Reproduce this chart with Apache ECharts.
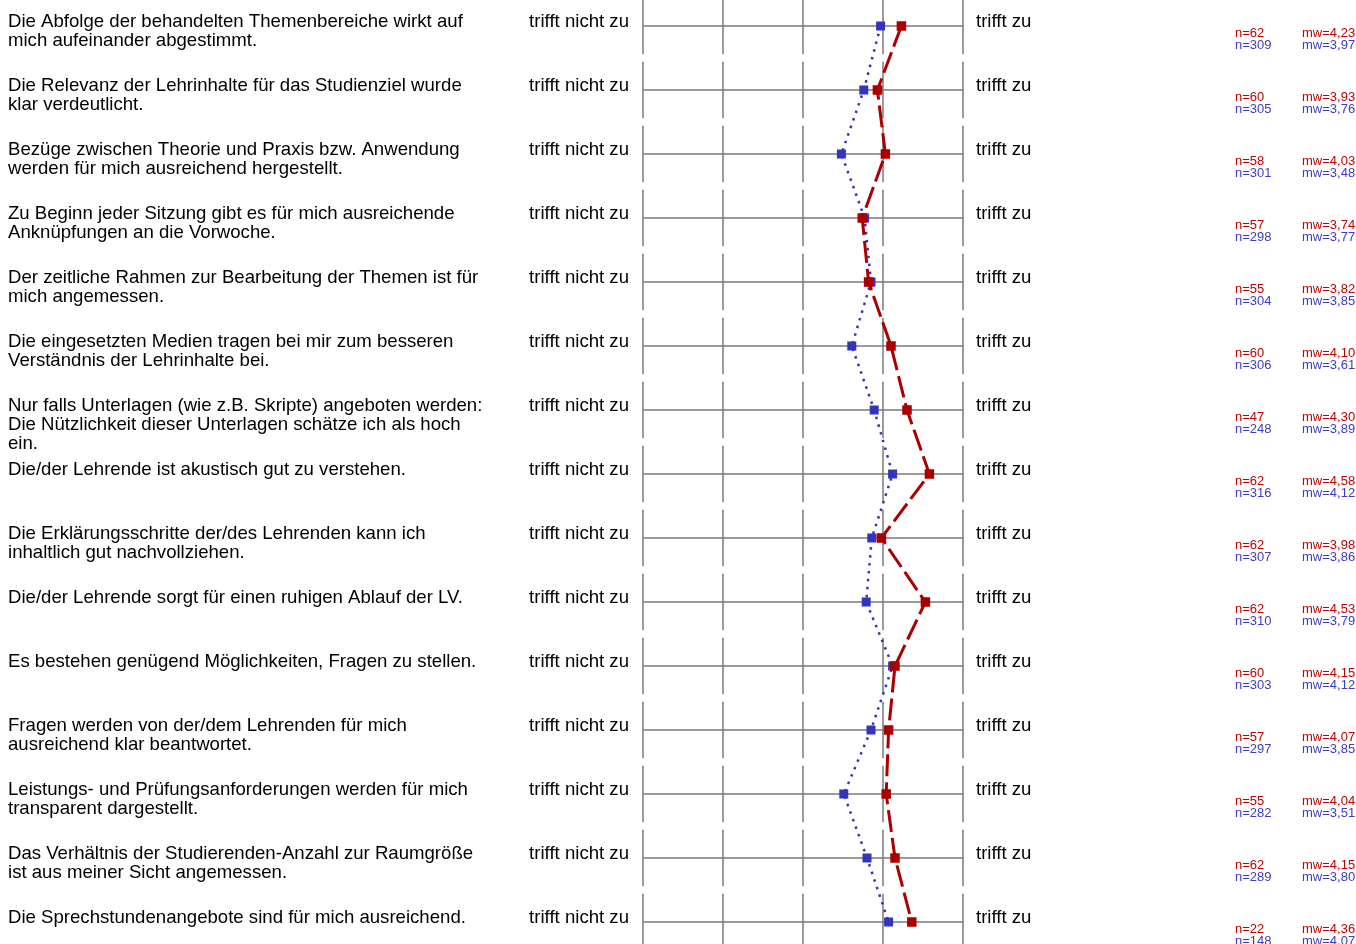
<!DOCTYPE html>
<html>
<head>
<meta charset="utf-8">
<script src="https://cdn.jsdelivr.net/npm/echarts@6/dist/echarts.min.js"></script>
<style>html,body{margin:0;padding:0;background:#fff}#c{width:1356px;height:944px}</style>
</head>
<body>
<div id="c"></div>
<script>
const questions = [
  "Die Abfolge der behandelten Themenbereiche wirkt auf\nmich aufeinander abgestimmt.",
  "Die Relevanz der Lehrinhalte für das Studienziel wurde\nklar verdeutlicht.",
  "Bezüge zwischen Theorie und Praxis bzw. Anwendung\nwerden für mich ausreichend hergestellt.",
  "Zu Beginn jeder Sitzung gibt es für mich ausreichende\nAnknüpfungen an die Vorwoche.",
  "Der zeitliche Rahmen zur Bearbeitung der Themen ist für\nmich angemessen.",
  "Die eingesetzten Medien tragen bei mir zum besseren\nVerständnis der Lehrinhalte bei.",
  "Nur falls Unterlagen (wie z.B. Skripte) angeboten werden:\nDie Nützlichkeit dieser Unterlagen schätze ich als hoch\nein.",
  "Die/der Lehrende ist akustisch gut zu verstehen.",
  "Die Erklärungsschritte der/des Lehrenden kann ich\ninhaltlich gut nachvollziehen.",
  "Die/der Lehrende sorgt für einen ruhigen Ablauf der LV.",
  "Es bestehen genügend Möglichkeiten, Fragen zu stellen.",
  "Fragen werden von der/dem Lehrenden für mich\nausreichend klar beantwortet.",
  "Leistungs- und Prüfungsanforderungen werden für mich\ntransparent dargestellt.",
  "Das Verhältnis der Studierenden-Anzahl zur Raumgröße\nist aus meiner Sicht angemessen.",
  "Die Sprechstundenangebote sind für mich ausreichend."
];
const leftPole = "trifft nicht zu";
const rightPole = "trifft zu";
const scaleTicks = [1, 2, 3, 4, 5];
const redMw = [4.23, 3.93, 4.03, 3.74, 3.82, 4.10, 4.30, 4.58, 3.98, 4.53, 4.15, 4.07, 4.04, 4.15, 4.36];
const blueMw = [3.97, 3.76, 3.48, 3.77, 3.85, 3.61, 3.89, 4.12, 3.86, 3.79, 4.12, 3.85, 3.51, 3.80, 4.07];
const redN = [62, 60, 58, 57, 55, 60, 47, 62, 62, 62, 60, 57, 55, 62, 22];
const blueN = [309, 305, 301, 298, 304, 306, 248, 316, 307, 310, 303, 297, 282, 289, 148];

const RED = '#aa0000', BLUE = '#3333bb';
const RED_T = '#c00000', BLUE_T = '#3c3cc4';
const GRID = '#7a7a7a';
const FONT = '"Liberation Sans", Arial, sans-serif';
const BIG = '18.6px ' + FONT;
const SMALL = '13px ' + FONT;
const fmt = v => v.toFixed(2).replace('.', ',');

const chart = echarts.init(document.getElementById('c'), null, {renderer: 'canvas'});

function renderRow(params, api) {
  const i = api.value(0);
  const L = api.coord([scaleTicks[0], i]);
  const R = api.coord([scaleTicks[scaleTicks.length - 1], i]);
  const cy = L[1];
  const children = [];
  children.push({type: 'line', shape: {x1: L[0], y1: cy, x2: R[0], y2: cy},
    style: {stroke: GRID, lineWidth: 1.5}});
  scaleTicks.forEach(t => {
    const a = api.coord([t, i - 0.44]);
    const b = api.coord([t, i + 0.44]);
    children.push({type: 'line', shape: {x1: a[0], y1: a[1], x2: b[0], y2: b[1]},
      style: {stroke: GRID, lineWidth: 1.5}});
  });
  children.push({type: 'text', style: {text: questions[i], x: L[0] - 635, y: cy - 13.5,
    font: BIG, fill: '#000', lineHeight: 19, textVerticalAlign: 'top'}});
  children.push({type: 'text', style: {text: leftPole, x: L[0] - 14, y: cy - 4.5,
    font: BIG, fill: '#000', textAlign: 'right', textVerticalAlign: 'middle'}});
  children.push({type: 'text', style: {text: rightPole, x: R[0] + 13, y: cy - 4.5,
    font: BIG, fill: '#000', textAlign: 'left', textVerticalAlign: 'middle'}});
  children.push({type: 'text', style: {text: 'n=' + redN[i], x: R[0] + 272, y: cy + 7.5,
    font: SMALL, fill: RED_T, textVerticalAlign: 'middle'}});
  children.push({type: 'text', style: {text: 'n=' + blueN[i], x: R[0] + 272, y: cy + 19.5,
    font: SMALL, fill: BLUE_T, textVerticalAlign: 'middle'}});
  children.push({type: 'text', style: {text: 'mw=' + fmt(redMw[i]), x: R[0] + 339, y: cy + 7.5,
    font: SMALL, fill: RED_T, textVerticalAlign: 'middle'}});
  children.push({type: 'text', style: {text: 'mw=' + fmt(blueMw[i]), x: R[0] + 339, y: cy + 19.5,
    font: SMALL, fill: BLUE_T, textVerticalAlign: 'middle'}});
  return {type: 'group', children};
}

chart.setOption({
  animation: false,
  backgroundColor: '#fff',
  grid: {left: 643, width: 320, top: 0, height: 944},
  xAxis: {type: 'value', min: 1, max: 5, show: false},
  yAxis: {type: 'value', min: -0.40625, max: 14.34375, inverse: true, show: false},
  series: [
    {type: 'custom', renderItem: renderRow, clip: false, z: 1,
     data: questions.map((q, i) => [i]), encode: {y: 0}, silent: true},
    {type: 'line', z: 3, data: blueMw.map((v, i) => [v, i]),
     symbol: 'rect', symbolSize: 9, showSymbol: true,
     itemStyle: {color: BLUE},
     lineStyle: {color: BLUE, width: 2.5, type: [2.5, 5.5], cap: 'butt'}},
    {type: 'line', z: 4, data: redMw.map((v, i) => [v, i]),
     symbol: 'rect', symbolSize: 9.5, showSymbol: true,
     itemStyle: {color: RED},
     lineStyle: {color: RED, width: 3, type: [22, 6]}}
  ]
});
</script>
</body>
</html>
